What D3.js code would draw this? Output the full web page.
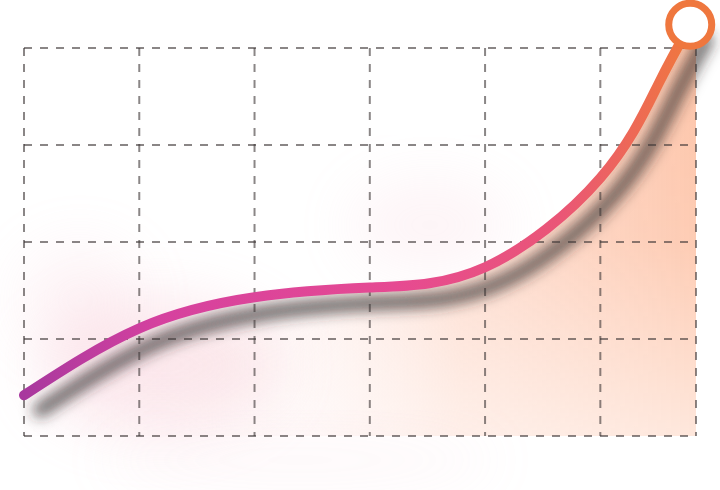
<!DOCTYPE html>
<html>
<head>
<meta charset="utf-8">
<script src="https://cdn.jsdelivr.net/npm/d3@7"></script>
<style>
  html, body { margin: 0; padding: 0; background: #fff; }
  svg { display: block; }
</style>
</head>
<body>
<script>
(function() {
	"use strict";
	// data, in grid units (x: columns, y: rows from bottom)
	const X_VALUES = [0, 1, 2, 3, 4, 5, 5.5, 5.78],
	   Y_VALUES = [0.42, 1.11, 1.43, 1.53, 1.74, 2.66, 3.62, 4.24],
	   X_TICKS = [0, 1, 2, 3, 4, 5],
	   Y_TICKS = [0, 1, 2, 3, 4],
	   X_MAX = 5.83;

	const points = X_VALUES.map((x, i) => ({ x: x, y: Y_VALUES[i] }));

	const W = 720, H = 490;
	const x = d3.scaleLinear().domain([0, X_MAX]).range([24, 696]);
	const y = d3.scaleLinear().domain([0, 4]).range([436, 48]);

	const svg = d3.select("body").append("svg").attr("width", W).attr("height", H);
	const defs = svg.append("defs");

	// line gradient purple -> pink -> orange
	const lg = defs.append("linearGradient").attr("id", "lineGrad")
		.attr("gradientUnits", "userSpaceOnUse")
		.attr("x1", x(0)).attr("x2", x(X_MAX)).attr("y1", 0).attr("y2", 0);
	[[0, "#a8389e"], [0.2, "#d5419f"], [0.55, "#e64a92"], [0.8, "#ea5676"], [1, "#f07a3a"]]
		.forEach(s => lg.append("stop").attr("offset", s[0]).attr("stop-color", s[1]));

	// area gradient: transparent on the left, peach on the right
	const ag = defs.append("linearGradient").attr("id", "areaGrad")
		.attr("gradientUnits", "userSpaceOnUse")
		.attr("x1", x(0)).attr("x2", x(X_MAX)).attr("y1", 0).attr("y2", 0);
	[[0, "#fbe4ea", 0.12], [0.4, "#fce0dc", 0.35], [0.65, "#fdcfbc", 0.8], [1, "#fdc3a7", 1]]
		.forEach(s => ag.append("stop").attr("offset", s[0]).attr("stop-color", s[1]).attr("stop-opacity", s[2]));

	const fg = defs.append("linearGradient").attr("id", "fadeGrad")
		.attr("x1", 0).attr("x2", 0).attr("y1", 0).attr("y2", 1);
	fg.append("stop").attr("offset", 0).attr("stop-color", "#fff").attr("stop-opacity", 1);
	fg.append("stop").attr("offset", 0.55).attr("stop-color", "#fff").attr("stop-opacity", 0.85);
	fg.append("stop").attr("offset", 1).attr("stop-color", "#fff").attr("stop-opacity", 0.4);
	defs.append("mask").attr("id", "fadeMask")
		.attr("maskUnits", "userSpaceOnUse").attr("x", 0).attr("y", 0).attr("width", W).attr("height", H)
		.append("rect").attr("x", 0).attr("y", y(4.4)).attr("width", W).attr("height", y(0) - y(4.4))
		.attr("fill", "url(#fadeGrad)");

	defs.append("filter").attr("id", "blurBig")
		.attr("x", "-50%").attr("y", "-50%").attr("width", "200%").attr("height", "200%")
		.append("feGaussianBlur").attr("stdDeviation", 30);
	defs.append("filter").attr("id", "blurShadow")
		.attr("x", "-20%").attr("y", "-30%").attr("width", "140%").attr("height", "160%")
		.append("feGaussianBlur").attr("stdDeviation", 7);

	// soft pink glows
	const glows = [[160, 365, 120, 65, 0.3], [80, 300, 60, 55, 0.15], [430, 225, 80, 45, 0.15], [300, 460, 200, 25, 0.1]];
	svg.append("g").selectAll("ellipse").data(glows).enter().append("ellipse")
		.attr("cx", d => d[0]).attr("cy", d => d[1]).attr("rx", d => d[2]).attr("ry", d => d[3])
		.attr("fill", "#f5b6c6").attr("opacity", d => d[4]).attr("filter", "url(#blurBig)");

	const line = d3.line().x(d => x(d.x)).y(d => y(d.y)).curve(d3.curveNatural);
	const last = points[points.length - 1];
	const areaPath = line(points) + "L" + x(X_MAX) + "," + y(last.y) +
		"V" + y(0) + "H" + x(0) + "Z";

	svg.append("path").attr("d", areaPath).attr("fill", "url(#areaGrad)").attr("mask", "url(#fadeMask)");

	// shadow under the line
	svg.append("path").attr("d", line(points))
		.attr("fill", "none").attr("stroke", "#2e2a2a").attr("stroke-opacity", 0.72)
		.attr("stroke-width", 14).attr("stroke-linecap", "round")
		.attr("transform", "translate(16,15)").attr("filter", "url(#blurShadow)");

	// dashed grid
	const grid = svg.append("g").attr("stroke", "#3c3636").attr("stroke-opacity", 0.6)
		.attr("stroke-width", 2).attr("stroke-dasharray", "8,8").attr("fill", "none");
	grid.selectAll("line.v").data(X_TICKS.concat([X_MAX])).enter().append("line").attr("class", "v")
		.attr("x1", d => x(d)).attr("x2", d => x(d)).attr("y1", y(4)).attr("y2", y(0));
	grid.selectAll("line.h").data(Y_TICKS).enter().append("line").attr("class", "h")
		.attr("x1", x(0)).attr("x2", x(X_MAX)).attr("y1", d => y(d)).attr("y2", d => y(d));

	svg.append("path").attr("d", line(points))
		.attr("fill", "none").attr("stroke", "url(#lineGrad)")
		.attr("stroke-width", 10).attr("stroke-linecap", "round");

	svg.append("circle").attr("cx", x(last.x)).attr("cy", y(last.y)).attr("r", 21.5)
		.attr("fill", "#fff").attr("stroke", "#ef773e").attr("stroke-width", 7);
}());
</script>
</body>
</html>
